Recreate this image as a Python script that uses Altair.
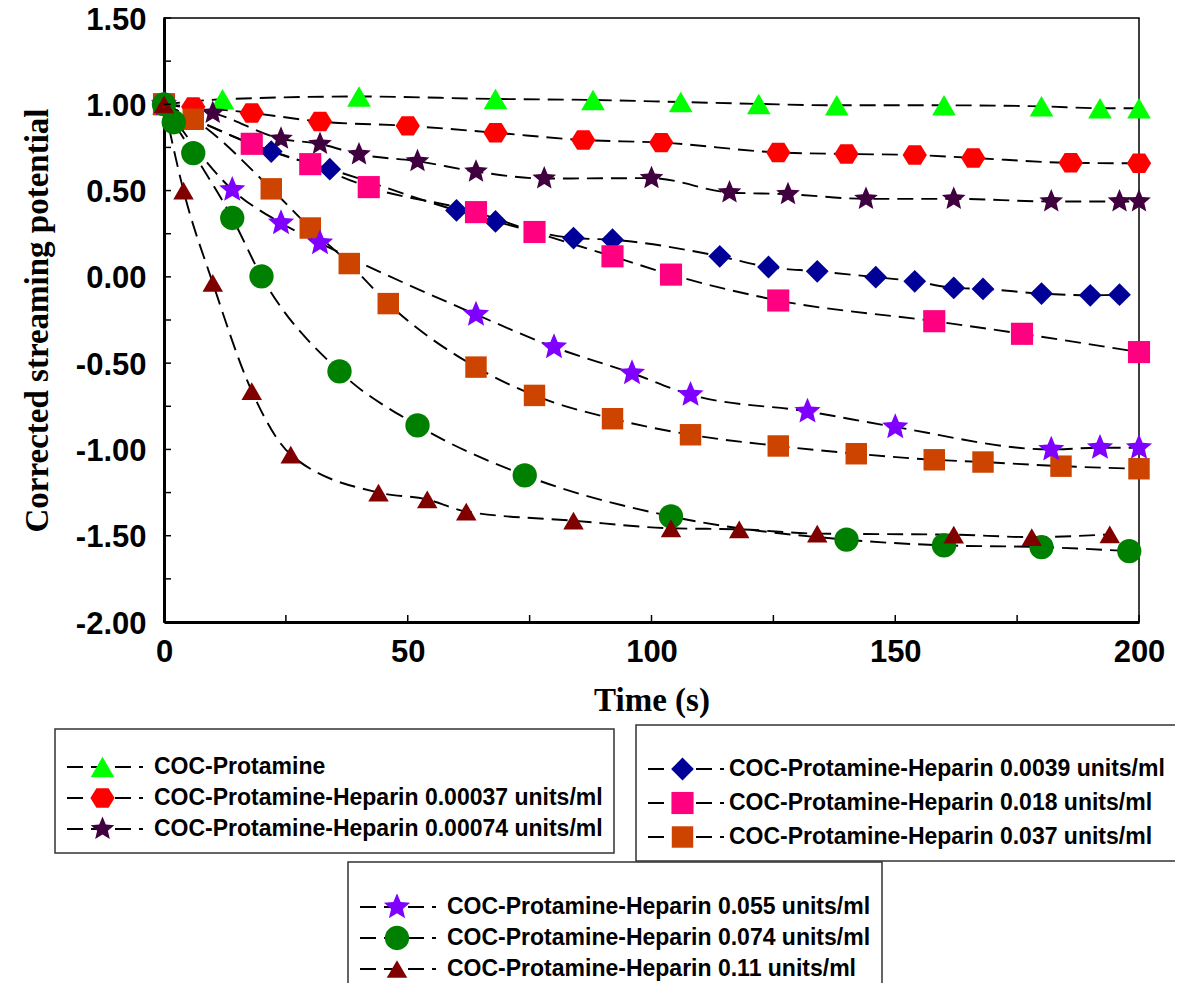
import math
import pandas as pd
import altair as alt

# ---------------- data ----------------
names = [
    "COC-Protamine",
    "COC-Protamine-Heparin 0.00037 units/ml",
    "COC-Protamine-Heparin 0.00074 units/ml",
    "COC-Protamine-Heparin 0.0039 units/ml",
    "COC-Protamine-Heparin 0.018 units/ml",
    "COC-Protamine-Heparin 0.037 units/ml",
    "COC-Protamine-Heparin 0.055 units/ml",
    "COC-Protamine-Heparin 0.074 units/ml",
    "COC-Protamine-Heparin 0.11 units/ml",
]

t_prot = [0, 12, 40, 68, 88, 106, 122, 138, 160, 180, 192, 200]
v_prot = [1.00, 1.029, 1.045, 1.031, 1.025, 1.013, 1.002, 0.994, 0.994, 0.988, 0.977, 0.977]

t_00037 = [0, 6, 18, 32, 50, 68, 86, 102, 126, 140, 154, 166, 186, 200]
v_00037 = [1.00, 0.985, 0.95, 0.90, 0.875, 0.835, 0.793, 0.778, 0.721, 0.712, 0.706, 0.689, 0.661, 0.658]

t_00074 = [0, 10, 24, 32, 40, 52, 64, 78, 100, 116, 128, 144, 162, 182, 196, 200]
v_00074 = [1.00, 0.95, 0.80, 0.77, 0.71, 0.67, 0.61, 0.57, 0.572, 0.489, 0.479, 0.452, 0.452, 0.437, 0.437, 0.437]

t_0039 = [0, 22, 34, 60, 68, 84, 92, 114, 124, 134, 146, 154, 162, 168, 180, 190, 196]
v_0039 = [1.00, 0.726, 0.624, 0.385, 0.321, 0.225, 0.215, 0.119, 0.057, 0.032, -0.002, -0.026, -0.064, -0.07, -0.097, -0.107, -0.103]

t_018 = [0, 18, 30, 42, 64, 76, 92, 104, 126, 158, 176, 200]
v_018 = [1.00, 0.771, 0.653, 0.52, 0.375, 0.26, 0.119, 0.013, -0.137, -0.257, -0.33, -0.436]

t_037 = [0, 6, 22, 30, 38, 46, 64, 76, 92, 108, 126, 142, 158, 168, 184, 200]
v_037 = [1.00, 0.913, 0.51, 0.283, 0.077, -0.155, -0.523, -0.687, -0.822, -0.915, -0.98, -1.025, -1.06, -1.073, -1.097, -1.112]

t_055 = [0, 14, 24, 32, 64, 80, 96, 108, 132, 150, 182, 192, 200]
v_055 = [1.00, 0.505, 0.312, 0.196, -0.218, -0.407, -0.558, -0.683, -0.78, -0.87, -1.0, -0.99, -0.99]

t_074 = [0, 2, 6, 14, 20, 36, 52, 74, 104, 140, 160, 180, 198]
v_074 = [1.00, 0.896, 0.717, 0.341, 0.003, -0.548, -0.861, -1.15, -1.388, -1.523, -1.556, -1.566, -1.589]

t_011 = [0, 4, 10, 18, 26, 44, 54, 62, 84, 104, 118, 134, 162, 178, 194]
v_011 = [1.00, 0.50, -0.035, -0.662, -1.03, -1.25, -1.29, -1.36, -1.413, -1.457, -1.463, -1.488, -1.494, -1.508, -1.492]

times = [t_prot, t_00037, t_00074, t_0039, t_018, t_037, t_055, t_074, t_011]
values = [v_prot, v_00037, v_00074, v_0039, v_018, v_037, v_055, v_074, v_011]
legend_box = [0, 0, 0, 1, 1, 1, 2, 2, 2]

x_label_values = [0, 50, 100, 150, 200]
x_tick_values = [0, 25, 50, 75, 100, 125, 150, 175, 200]
y_label_values = [-2.0, -1.5, -1.0, -0.5, 0.0, 0.5, 1.0, 1.5]
y_tick_values = [-2.0, -1.75, -1.5, -1.25, -1.0, -0.75, -0.5, -0.25, 0.0,
                 0.25, 0.5, 0.75, 1.0, 1.25, 1.5]

# ---------------- styles ----------------
colors = ["#00FF00", "#FF0000", "#400040", "#000099", "#FF0080",
          "#CC4400", "#8000FF", "#008000", "#800000"]


def star_path(inner=0.45):
    pts = []
    for k in range(10):
        r = 1.0 if k % 2 == 0 else inner
        a = math.radians(-90 + 36 * k)
        pts.append((r * math.cos(a), r * math.sin(a)))
    return "M" + " L".join(f"{x:.3f},{y:.3f}" for x, y in pts) + " Z"


HEX = "M1,0 L0.5,0.8 L-0.5,0.8 L-1,0 L-0.5,-0.8 L0.5,-0.8 Z"
STAR = star_path()
shapes = ["triangle-up", HEX, STAR, "diamond", "square", "square", STAR, "circle", "triangle-up"]
sizes = [560, 620, 760, 520, 460, 460, 760, 420, 560]

rows = []
for i, (n, ts, vs) in enumerate(zip(names, times, values)):
    for t, v in zip(ts, vs):
        rows.append({"series": n, "t": t, "v": v, "box": legend_box[i]})
df = pd.DataFrame(rows)

W, H = 975, 604
SANS = "Liberation Sans"
SERIF = "Liberation Serif"
DASH = [16, 8]
NBSP = "\u00a0"

xscale = alt.Scale(domain=[0, 200], nice=False, zero=False)
yscale = alt.Scale(domain=[-2, 1.5], nice=False, zero=False)

xaxis = alt.Axis(values=x_label_values, format="d", ticks=False, grid=False,
                 domainWidth=3, domainColor="black", labelFlush=False, labelOverlap=False,
                 labelFont=SANS, labelFontWeight="bold", labelFontSize=31, labelColor="black",
                 labelPadding=15, title="Time (s)", titleFont=SERIF, titleFontWeight="bold",
                 titleFontSize=33, titleColor="black", titlePadding=17)
yaxis = alt.Axis(values=y_label_values, ticks=False, grid=False,
                 labelExpr="(datum.value < 0 ? '-' : '') + format(abs(datum.value), '.2f')",
                 domainWidth=3, domainColor="black", labelFlush=False, labelOverlap=False,
                 labelFont=SANS, labelFontWeight="bold", labelFontSize=31, labelColor="black",
                 labelPadding=18, labelOffset=2, title="Corrected streaming potential",
                 titleFont=SERIF, titleFontWeight="bold", titleFontSize=33,
                 titleColor="black", titlePadding=21)

X = alt.X("t:Q", scale=xscale, axis=xaxis)
Y = alt.Y("v:Q", scale=yscale, axis=yaxis)

# legend boxes: (legendX, legendY, titlePadding, rowPadding, labelOffset, trailing pad count)
legend_pos = [(-109, 711, 6, 5, 10, 3), (472, 707, 12, 8, 4, 2), (184, 844, 13, 5, 10, 3)]


def dash_legend(g):
    lx, ly, tp, rp, lo, npad = legend_pos[g]
    pad = NBSP * npad
    return alt.Legend(orient="none", legendX=lx, legendY=ly, title=" ", titleFontSize=8,
                      titlePadding=tp, padding=11, rowPadding=rp, clipHeight=26,
                      symbolType="stroke", symbolSize=5776, symbolStrokeWidth=1.8,
                      symbolStrokeColor="black", labelFont=SANS, labelFontWeight="bold",
                      labelFontSize=23, labelColor="black", labelLimit=800, labelOffset=lo,
                      labelExpr=f"datum.label + '{pad}'",
                      strokeColor="#333333", fillColor="white", zindex=1)


def marker_legend(g):
    lx, ly, tp, rp, lo, npad = legend_pos[g]
    return alt.Legend(orient="none", legendX=lx + 24, legendY=ly, title=" ", titleFontSize=8,
                      titlePadding=tp, padding=11, rowPadding=rp, clipHeight=26,
                      symbolStrokeWidth=0, symbolOpacity=1, labelExpr="''",
                      labelFontSize=8, zindex=2)


line_layers = []
point_layers = []
for g in range(3):
    idx = [i for i in range(9) if legend_box[i] == g]
    dom = [names[i] for i in idx]
    dfg = df[df["box"] == g]
    line_layers.append(
        alt.Chart(dfg).mark_line(color="black", strokeWidth=1.9, interpolate="monotone").encode(
            x=X, y=Y,
            strokeDash=alt.StrokeDash("series:N",
                                      scale=alt.Scale(domain=dom, range=[DASH] * len(dom)),
                                      legend=dash_legend(g)),
        )
    )
    ml = marker_legend(g)
    point_layers.append(
        alt.Chart(dfg).mark_point(filled=True, opacity=1, strokeWidth=0).encode(
            x=X, y=Y,
            color=alt.Color("series:N", scale=alt.Scale(domain=dom, range=[colors[i] for i in idx]), legend=ml),
            shape=alt.Shape("series:N", scale=alt.Scale(domain=dom, range=[shapes[i] for i in idx]), legend=ml),
            size=alt.Size("series:N", scale=alt.Scale(domain=dom, range=[sizes[i] for i in idx]), legend=ml),
        )
    )

ytick_df = pd.DataFrame({"v": y_tick_values})
xtick_df = pd.DataFrame({"t": x_tick_values})

y_ticks = alt.Chart(ytick_df).mark_rule(color="black", strokeWidth=1.5).encode(
    y=Y, x=alt.value(0), x2=alt.value(7))
x_ticks = alt.Chart(xtick_df).mark_rule(color="black", strokeWidth=1.5).encode(
    x=X, y=alt.value(H), y2=alt.value(H - 7))

chart = alt.layer(*line_layers, *point_layers, y_ticks, x_ticks).resolve_scale(
    color="independent", shape="independent", size="independent", strokeDash="independent"
).properties(
    width=W, height=H,
    padding={"left": 156, "top": 10, "right": 36, "bottom": 361},
    autosize=alt.AutoSizeParams(type="none"),
    background="white",
).configure_view(stroke="black", strokeWidth=1.5).configure_legend(strokeWidth=1.5)

chart.save("out.html", embed_options={"renderer": "svg", "actions": False})
